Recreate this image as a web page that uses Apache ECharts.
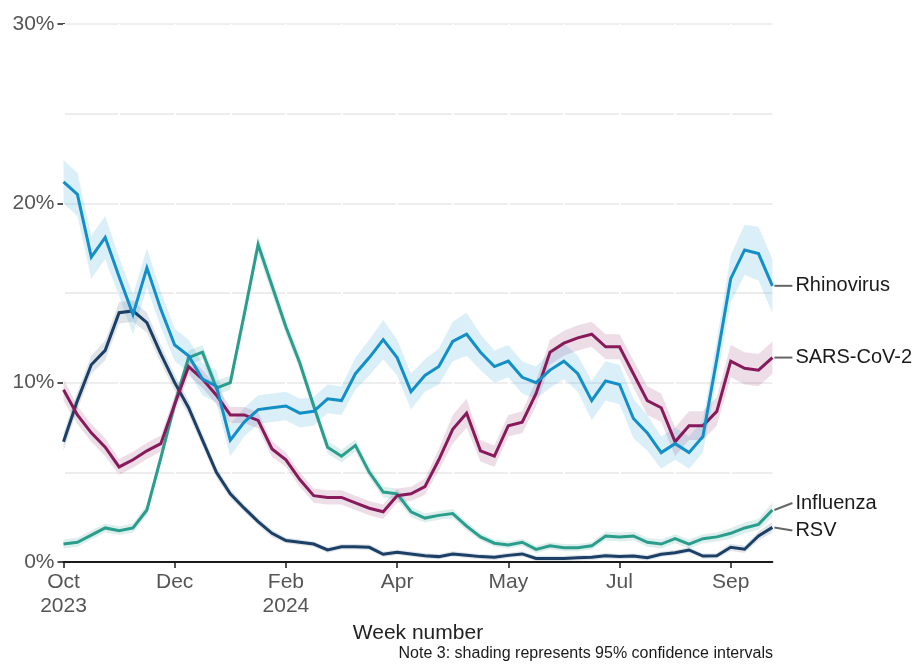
<!DOCTYPE html>
<html>
<head>
<meta charset="utf-8">
<script src="https://cdn.jsdelivr.net/npm/echarts@6/dist/echarts.min.js"></script>
<style>
html,body{margin:0;padding:0;background:#fff;}
#chart{width:918px;height:664px;}
</style>
</head>
<body>
<div id="chart"></div>
<script>
// Week numbers (week 40 of 2023 to week 39 of 2024)
const weeks = [40,41,42,43,44,45,46,47,48,49,50,51,52,1,2,3,4,5,6,7,8,9,10,11,12,13,14,15,16,17,18,19,20,21,22,23,24,25,26,27,28,29,30,31,32,33,34,35,36,37,38,39];
// Tick labels by category index
const tickLabels = {0:"Oct\n2023", 8:"Dec", 16:"Feb\n2024", 24:"Apr", 32:"May", 40:"Jul", 48:"Sep"};
const yTicks = [0, 10, 20, 30];

const rhinovirus = [21.2,20.5,17.0,18.1,15.9,13.8,16.4,14.1,12.1,11.5,10.2,9.8,6.8,7.8,8.5,8.6,8.7,8.3,8.4,9.1,9.0,10.5,11.4,12.4,11.4,9.5,10.4,10.9,12.3,12.7,11.7,10.9,11.2,10.3,10.0,10.7,11.2,10.5,9.0,10.1,9.9,8.0,7.2,6.1,6.6,6.1,7.0,11.3,15.8,17.4,17.2,15.4];
const rhinovirusCI = [1.2,1.2,1.2,1.2,1.1,1.1,1.1,1.0,0.9,0.9,0.9,0.9,0.9,0.8,0.8,0.8,0.8,0.8,0.8,0.8,0.8,0.9,1.0,1.1,1.0,1.0,0.9,1.0,1.1,1.2,1.0,0.9,0.9,0.9,0.9,1.0,1.0,1.0,1.1,1.1,1.1,1.1,1.0,0.9,0.9,0.9,0.9,1.1,1.3,1.4,1.5,1.5];

const sarsCoV2 = [9.6,8.2,7.2,6.4,5.3,5.7,6.2,6.6,8.8,10.9,10.2,9.3,8.2,8.2,7.9,6.3,5.7,4.6,3.7,3.6,3.6,3.3,3.0,2.8,3.7,3.8,4.2,5.7,7.4,8.3,6.2,5.9,7.6,7.8,9.4,11.7,12.2,12.5,12.7,12.0,12.0,10.5,9.0,8.6,6.7,7.6,7.6,8.4,11.2,10.8,10.7,11.4];
const sarsCoV2CI = [0.6,0.5,0.5,0.5,0.45,0.45,0.45,0.45,0.5,0.5,0.5,0.5,0.45,0.45,0.45,0.45,0.4,0.4,0.4,0.4,0.4,0.4,0.4,0.4,0.4,0.4,0.45,0.6,0.8,0.8,0.6,0.6,0.6,0.6,0.7,0.7,0.7,0.7,0.7,0.7,0.7,0.75,0.8,0.8,0.8,0.8,0.8,0.8,0.9,0.9,0.9,0.9];

const influenza = [1.0,1.1,1.5,1.9,1.75,1.9,2.9,5.8,8.8,11.4,11.7,9.7,10.0,13.8,17.7,15.4,13.1,11.1,8.7,6.4,5.9,6.5,5.0,3.9,3.8,2.8,2.45,2.6,2.7,2.0,1.4,1.05,0.95,1.1,0.7,0.9,0.8,0.8,0.9,1.45,1.4,1.45,1.1,1.0,1.3,1.0,1.3,1.4,1.6,1.9,2.1,2.9];
const influenzaCI = [0.25,0.25,0.25,0.25,0.25,0.25,0.3,0.35,0.4,0.4,0.4,0.4,0.4,0.45,0.5,0.45,0.4,0.4,0.35,0.35,0.35,0.35,0.3,0.3,0.3,0.3,0.25,0.25,0.25,0.25,0.2,0.2,0.2,0.2,0.2,0.2,0.2,0.2,0.2,0.25,0.25,0.25,0.25,0.25,0.25,0.25,0.25,0.25,0.3,0.3,0.3,0.4];

const rsv = [6.7,9.0,11.0,11.8,13.9,14.0,13.35,11.6,10.0,8.6,6.8,5.0,3.8,3.0,2.25,1.6,1.2,1.1,1.0,0.67,0.85,0.85,0.82,0.43,0.54,0.45,0.35,0.3,0.45,0.37,0.3,0.26,0.37,0.45,0.2,0.2,0.2,0.24,0.26,0.35,0.3,0.33,0.24,0.43,0.52,0.67,0.33,0.35,0.82,0.71,1.45,1.93];
const rsvCI = [0.5,0.5,0.5,0.55,0.6,0.6,0.55,0.5,0.45,0.4,0.35,0.3,0.25,0.2,0.2,0.2,0.15,0.15,0.15,0.15,0.15,0.15,0.15,0.15,0.15,0.15,0.15,0.15,0.15,0.15,0.15,0.15,0.15,0.15,0.15,0.15,0.15,0.15,0.15,0.15,0.15,0.15,0.15,0.15,0.15,0.15,0.15,0.15,0.2,0.2,0.25,0.3];

const seriesDefs = [
  {name:"Influenza", values: influenza, ci: influenzaCI, color:"#2a9d8c", band:"rgba(42,157,140,0.16)", labelDy:-7},
  {name:"RSV", values: rsv, ci: rsvCI, color:"#1c3f66", band:"rgba(28,63,102,0.14)", labelDy:3},
  {name:"SARS-CoV-2", values: sarsCoV2, ci: sarsCoV2CI, color:"#871a5b", band:"rgba(135,26,91,0.15)", labelDy:0},
  {name:"Rhinovirus", values: rhinovirus, ci: rhinovirusCI, color:"#118fc6", band:"rgba(39,160,214,0.17)", labelDy:0}
];

const FONT = "'Liberation Sans', Arial, sans-serif";
const chart = echarts.init(document.getElementById('chart'), null, {renderer:'canvas'});

const series = [];
seriesDefs.forEach(function(d){
  const lower = d.values.map(function(v,i){ return Math.max(0, +(v - d.ci[i]).toFixed(3)); });
  const span = d.values.map(function(v,i){ return +((v + d.ci[i]) - lower[i]).toFixed(3); });
  series.push({
    type:'line', name:d.name+' lower', data:lower, stack:'ci-'+d.name,
    symbol:'none', silent:true, lineStyle:{opacity:0}, z:1
  });
  series.push({
    type:'line', name:d.name+' band', data:span, stack:'ci-'+d.name,
    symbol:'none', silent:true, lineStyle:{opacity:0},
    areaStyle:{color:d.band, opacity:1}, z:1
  });
});
seriesDefs.forEach(function(d){
  series.push({
    type:'line', name:d.name, data:d.values, symbol:'none',
    lineStyle:{color:d.color, width:3, join:'miter'}, z:3
  });
});

chart.setOption({
  animation:false,
  backgroundColor:'#ffffff',
  grid:{left:63.5, right:145.6, top:24, bottom:102, containLabel:false},
  xAxis:{
    type:'category', data:weeks, boundaryGap:false, z:1,
    name:'Week number', nameLocation:'middle', nameGap:58,
    nameTextStyle:{color:'#222', fontSize:21, fontFamily:FONT},
    axisLine:{show:true, lineStyle:{color:'#1a1a1a', width:2}},
    axisTick:{show:true, interval:7, length:6, lineStyle:{color:'#1a1a1a', width:1.5}},
    axisLabel:{interval:7, color:'#555', fontSize:21, fontFamily:FONT, margin:8, lineHeight:24,
      formatter:function(v, idx){ return tickLabels[idx] || ''; }},
    splitLine:{show:true, interval:3, lineStyle:{color:'#ffffff', width:2}}
  },
  yAxis:{
    type:'value', min:0, max:30, interval:10,
    axisLine:{show:true, lineStyle:{color:'#1a1a1a', width:2}},
    axisTick:{show:true, length:6, lineStyle:{color:'#1a1a1a', width:1.5}},
    axisLabel:{color:'#555', fontSize:21, fontFamily:FONT, margin:9,
      formatter:function(v){ return yTicks.indexOf(v) >= 0 ? v + '%' : ''; }},
    splitLine:{show:true, lineStyle:{color:'#e8e8e8', width:1.5}},
    minorTick:{show:false, splitNumber:2},
    minorSplitLine:{show:true, lineStyle:{color:'#e8e8e8', width:1.5}}
  },
  series:series
});

// Right-hand series labels with connector lines, placed from the last data point
const graphics = [];
const last = weeks.length - 1;
seriesDefs.forEach(function(d){
  const p = chart.convertToPixel({gridIndex:0}, [last, d.values[last]]);
  const ly = p[1] + d.labelDy;
  graphics.push({type:'line', shape:{x1:p[0]+2, y1:p[1], x2:p[0]+20, y2:ly},
    style:{stroke:'#666', lineWidth:2}, z:10});
  graphics.push({type:'text', x:p[0]+23, y:ly,
    style:{text:d.name, fill:'#1a1a1a', font:'20px ' + FONT, textVerticalAlign:'middle', textAlign:'left'}, z:10});
});
graphics.push({type:'text', right:145, bottom:2,
  style:{text:'Note 3: shading represents 95% confidence intervals', fill:'#1a1a1a', font:'16px ' + FONT}});
chart.setOption({graphic:graphics});
</script>
</body>
</html>
